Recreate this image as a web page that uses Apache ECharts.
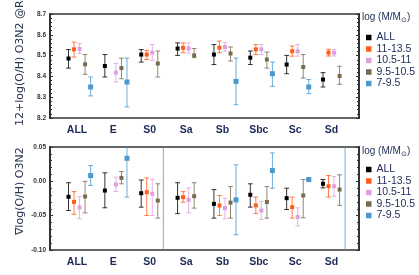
<!DOCTYPE html>
<html>
<head>
<meta charset="utf-8">
<script src="https://cdn.jsdelivr.net/npm/echarts@6/dist/echarts.min.js"></script>
<style>
  html, body { margin: 0; padding: 0; background: #fff; }
  #chart { width: 419px; height: 275px; }
</style>
</head>
<body>
<div id="chart"></div>
<script>
const categories = ["ALL", "E", "S0", "Sa", "Sb", "Sbc", "Sc", "Sd"];
const massBins = ["ALL", "11-13.5", "10.5-11", "9.5-10.5", "7-9.5"];
const binColors = ["#000000", "#ff5e1a", "#e0a0e0", "#7a6a50", "#4a9ad0"];

// top panel: 12+log(O/H) at Re, [value, low, high] per category
const ohAll    = [[8.486, 8.440, 8.529], [8.450, 8.397, 8.505], [8.505, 8.469, 8.529], [8.534, 8.501, 8.561], [8.505, 8.457, 8.553], [8.490, 8.457, 8.522], [8.457, 8.413, 8.501], [8.385, 8.349, 8.418]];
const oh11     = [[8.530, 8.493, 8.565], null, [8.505, 8.481, 8.525], [8.537, 8.514, 8.561], [8.538, 8.514, 8.570], [8.530, 8.505, 8.553], [8.521, 8.497, 8.546], [8.514, 8.498, 8.530]];
const oh105    = [[8.532, 8.510, 8.558], [8.418, 8.373, 8.462], [8.514, 8.477, 8.553], [8.534, 8.512, 8.561], [8.541, 8.521, 8.562], [8.530, 8.505, 8.553], [8.521, 8.497, 8.553], [8.514, 8.498, 8.530]];
const oh95     = [[8.458, 8.410, 8.505], [8.440, 8.389, 8.488], [8.462, 8.397, 8.522], [8.501, 8.490, 8.534], [8.510, 8.474, 8.541], [8.481, 8.440, 8.517], [8.445, 8.392, 8.505], [8.402, 8.362, 8.449]];
const oh7      = [[8.349, 8.306, 8.397], [8.373, 8.253, 8.488], null, null, [8.376, 8.264, 8.488], [8.413, 8.352, 8.469], [8.349, 8.317, 8.385], null];

// bottom panel: gradient of log(O/H)
const gradAll  = [[-0.0225, -0.0424, -0.002], [-0.0134, -0.0385, 0.0124], [-0.0173, -0.0376, 0.002], [-0.024, -0.047, -0.002], [-0.0328, -0.0536, -0.012], [-0.0196, -0.0376, -0.0036], [-0.0245, -0.041, -0.010], [-0.0036, -0.0095, 0.0026]];
const grad11   = [[-0.030, -0.048, -0.015], null, [-0.0158, -0.0497, 0.005], [-0.023, -0.0304, -0.015], [-0.0352, -0.0497, -0.0206], [-0.035, -0.047, -0.023], [-0.0376, -0.0536, -0.023], [-0.0071, -0.023, 0.0084]];
const grad105  = [[-0.038, -0.0545, -0.022], [-0.0047, -0.0148, 0.006], [-0.0182, -0.0497, 0.0026], [-0.027, -0.0458, -0.0095], [-0.039, -0.0545, -0.0246], [-0.0424, -0.0555, -0.029], [-0.052, -0.065, -0.0385], [-0.0071, -0.0217, 0.007]];
const grad95   = [[-0.022, -0.046, 0.000], [0.005, -0.0036, 0.0142], [-0.028, -0.0536, -0.0036], [-0.0216, -0.039, -0.002], [-0.031, -0.0536, -0.0076], [-0.030, -0.0536, -0.0076], [-0.0206, -0.053, 0.0026], [-0.012, -0.035, 0.0095]];
const grad7    = [[0.0084, -0.006, 0.023], [0.0336, -0.023, 0.052], [0.14, -0.30, 0.58], null, [-0.027, -0.0778, 0.024], [0.0157, -0.010, 0.0414], [0.0026, 0.0016, 0.0036], [0.12, -0.25, 0.49]];

const topSets = [ohAll, oh11, oh105, oh95, oh7];
const bottomSets = [gradAll, grad11, grad105, grad95, grad7];

const textColor = "#1c2a55";
const slotWidth = 0.152;
const groupShift = 0.07;

function toItems(set, k) {
  const out = [];
  set.forEach((d, i) => {
    if (!d) return;
    out.push([i + groupShift + (k - 2) * slotWidth, d[0], d[1], d[2]]);
  });
  return out;
}

function errorBar(color, size) {
  return function (params, api) {
    const x = api.value(0);
    const c = api.coord([x, api.value(1)]);
    const lo = api.coord([x, api.value(2)]);
    const hi = api.coord([x, api.value(3)]);
    const cap = 2.4;
    const lineStyle = { stroke: color, lineWidth: 1, opacity: 0.8 };
    return {
      type: "group",
      children: [
        { type: "line", shape: { x1: c[0], y1: lo[1], x2: c[0], y2: hi[1] }, style: lineStyle },
        { type: "line", shape: { x1: c[0] - cap, y1: lo[1], x2: c[0] + cap, y2: lo[1] }, style: lineStyle },
        { type: "line", shape: { x1: c[0] - cap, y1: hi[1], x2: c[0] + cap, y2: hi[1] }, style: lineStyle },
        { type: "rect", shape: { x: c[0] - size / 2, y: c[1] - size / 2, width: size, height: size }, style: { fill: color } }
      ]
    };
  };
}

function makeSeries(sets, idx) {
  return sets.map((set, k) => ({
    name: massBins[k],
    type: "custom",
    xAxisIndex: idx,
    yAxisIndex: idx * 2,
    clip: true,
    itemStyle: { color: binColors[k] },
    encode: { x: 0, y: 1 },
    renderItem: errorBar(binColors[k], k === 4 ? 5 : 4),
    data: toItems(set, k)
  }));
}

function xAxisFor(gridIndex) {
  return {
    type: "value",
    gridIndex: gridIndex,
    min: -0.743,
    max: 7.756,
    axisLine: { show: false, onZero: false },
    axisTick: { show: false },
    splitLine: { show: false },
    axisLabel: {
      customValues: [0, 1, 2, 3, 4, 5, 6, 7],
      formatter: v => categories[Math.round(v)],
      margin: 7,
      fontSize: 10.5,
      fontWeight: "bold",
      fontFamily: "Liberation Sans",
      color: textColor
    }
  };
}

function yAxesFor(gridIndex, min, max, interval, digits) {
  const common = {
    type: "value",
    gridIndex: gridIndex,
    min: min,
    max: max,
    interval: interval,
    splitLine: { show: false },
    axisLine: { show: true, onZero: false, lineStyle: { color: "#333", width: 2 } },
    axisTick: { show: true, inside: true, length: 3, lineStyle: { color: "#333" } },
    minorTick: { show: true, splitNumber: 5, length: 2, lineStyle: { color: "#333" } }
  };
  return [
    Object.assign({}, common, {
      position: "left",
      axisLabel: {
        formatter: v => v.toFixed(digits),
        fontSize: 6.5,
        fontWeight: "bold",
        fontFamily: "Liberation Sans",
        color: "#333",
        margin: 4
      }
    }),
    Object.assign({}, common, { position: "right", axisLabel: { show: false } })
  ];
}

function legendFor(top) {
  return {
    orient: "vertical",
    left: 361,
    top: top,
    icon: "rect",
    itemWidth: 5.5,
    itemHeight: 5.5,
    itemGap: 0.5,
    selectedMode: false,
    data: massBins,
    textStyle: { fontSize: 10.5, lineHeight: 10, fontFamily: "Liberation Sans", color: textColor }
  };
}

function legendTitle(top) {
  return {
    type: "text",
    left: 362,
    top: top,
    style: {
      text: "{a|log (M/M}{s|⊙}{a|)}",
      rich: {
        a: { fontSize: 10, fontFamily: "Liberation Sans", fill: textColor },
        s: { fontSize: 6.5, fontFamily: "Liberation Sans", fill: textColor, verticalAlign: "bottom", padding: [7, 0, 0, 0] }
      }
    }
  };
}

function yTitle(text, cx, bottomY) {
  return {
    type: "text",
    x: cx,
    y: bottomY,
    rotation: Math.PI / 2,
    style: {
      text: text,
      fontSize: 11,
      fontFamily: "DejaVu Sans",
      fill: "#2a3550",
      align: "left",
      verticalAlign: "middle"
    }
  };
}

const chart = echarts.init(document.getElementById("chart"), null, { renderer: "canvas" });
chart.setOption({
  animation: false,
  backgroundColor: "#fff",
  grid: [
    { left: 50, right: 60, top: 14, height: 104, show: true, borderColor: "#666", borderWidth: 2 },
    { left: 50, right: 60, top: 147, height: 103, show: true, borderColor: "#666", borderWidth: 2 }
  ],
  xAxis: [xAxisFor(0), xAxisFor(1)],
  yAxis: yAxesFor(0, 8.2, 8.7, 0.1, 1).concat(yAxesFor(1, -0.1, 0.05, 0.05, 2)),
  legend: [legendFor(27), legendFor(159)],
  graphic: [
    legendTitle(12),
    legendTitle(146),
    yTitle("12+log(O/H) O3N2 @Re", 20, 126),
    yTitle("∇log(O/H) O3N2", 20, 235)
  ],
  series: makeSeries(topSets, 0).concat(makeSeries(bottomSets, 1))
});
</script>
</body>
</html>
